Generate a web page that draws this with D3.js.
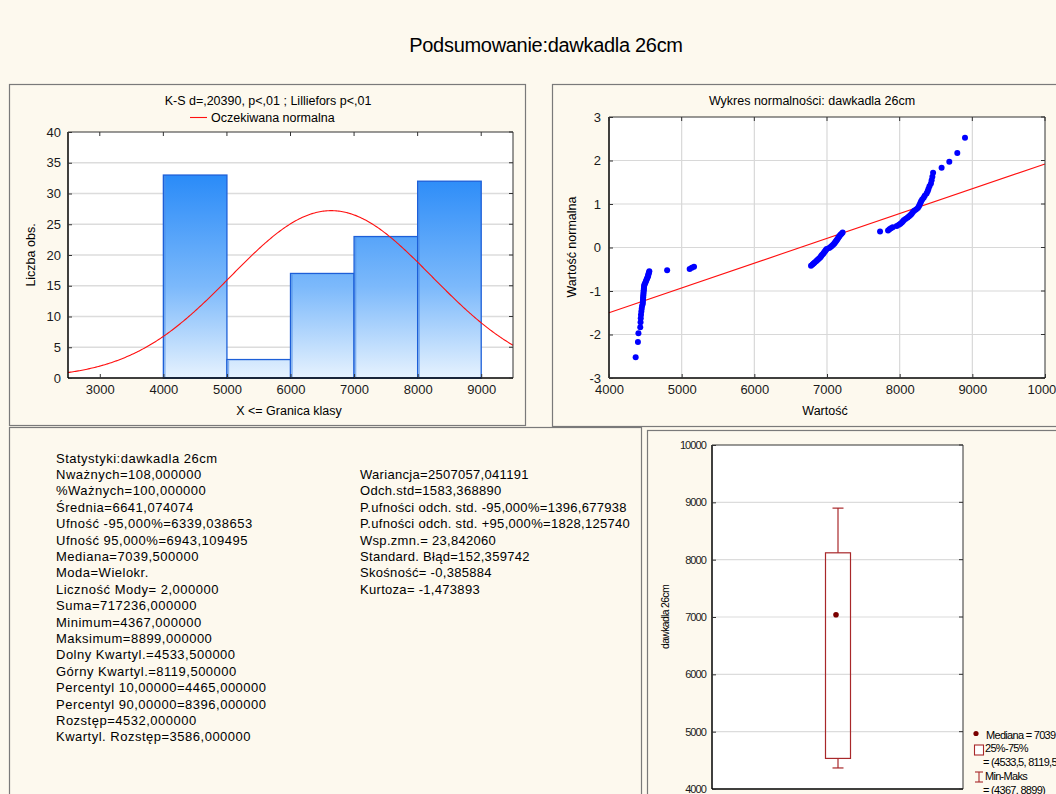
<!DOCTYPE html>
<html>
<head>
<meta charset="utf-8">
<script src="https://cdn.jsdelivr.net/npm/d3@7"></script>
<style>
  body { margin: 0; background: #fdf9ee; overflow: hidden; }
  svg { display: block; font-family: "Liberation Sans", Arial, sans-serif; }
</style>
</head>
<body>
<div id="chart"></div>
<script>
// ---- histogram data ----
const binEdges = [4000, 5000, 6000, 7000, 8000, 9000];
const binCounts = [33, 3, 17, 23, 32];
const histXTicks = [3000, 4000, 5000, 6000, 7000, 8000, 9000];
const histYTicks = [0, 5, 10, 15, 20, 25, 30, 35, 40];
const sampleMean = 6641.074074;
const sampleSd = 1583.368890;
const sampleN = 108;

// ---- normal probability plot data (sorted observations) ----
const sortedValues = [
  4367, 4398, 4405, 4430, 4434, 4437, 4440, 4445, 4450, 4455,
  4465, 4466, 4468, 4470, 4472, 4474, 4476, 4478, 4480, 4482,
  4485, 4490, 4500, 4508, 4515, 4522, 4530, 4537, 4540, 4545,
  4550, 4555, 4800,
  5110, 5140, 5170,
  6780, 6800, 6815, 6830, 6850, 6865, 6880, 6895, 6910, 6920,
  6930, 6945, 6955, 6965, 6975, 6985, 6995,
  7030, 7049, 7065, 7080, 7095, 7105, 7115, 7125, 7135, 7145,
  7155, 7165, 7175, 7185, 7200, 7215, 7730, 7840, 7860, 7880,
  7905, 7960, 7990,
  8010, 8030, 8045, 8060, 8085, 8110, 8130, 8150, 8165, 8180,
  8200, 8225, 8250, 8265, 8275, 8285, 8295, 8310, 8330, 8345,
  8370, 8385, 8396, 8410, 8430, 8440, 8450, 8460, 8577, 8683,
  8793, 8899
];
const probXTicks = [4000, 5000, 6000, 7000, 8000, 9000, 10000];
const probYTicks = [-3, -2, -1, 0, 1, 2, 3];
const refLineX = [4000, 10000];
const refLineY = [-1.5, 1.92];

// ---- box plot data: min, q1, median, q3, max ----
const boxSummary = [4367, 4533.5, 7039.5, 8119.5, 8899];
const boxYTicks = [4000, 5000, 6000, 7000, 8000, 9000, 10000];

// ---- descriptive statistics text ----
const statsLeft = [
  "Statystyki:dawkadla 26cm",
  "Nważnych=108,000000",
  "%Ważnych=100,000000",
  "Średnia=6641,074074",
  "Ufność -95,000%=6339,038653",
  "Ufność 95,000%=6943,109495",
  "Mediana=7039,500000",
  "Moda=Wielokr.",
  "Liczność Mody= 2,000000",
  "Suma=717236,000000",
  "Minimum=4367,000000",
  "Maksimum=8899,000000",
  "Dolny Kwartyl.=4533,500000",
  "Górny Kwartyl.=8119,500000",
  "Percentyl 10,00000=4465,000000",
  "Percentyl 90,00000=8396,000000",
  "Rozstęp=4532,000000",
  "Kwartyl. Rozstęp=3586,000000"
];
const statsRight = [
  "Wariancja=2507057,041191",
  "Odch.std=1583,368890",
  "P.ufności odch. std. -95,000%=1396,677938",
  "P.ufności odch. std. +95,000%=1828,125740",
  "Wsp.zmn.= 23,842060",
  "Standard. Błąd=152,359742",
  "Skośność= -0,385884",
  "Kurtoza= -1,473893"
];
const boxLegend = ["Mediana = 7039,5", "25%-75%", "= (4533,5, 8119,5)", "Min-Maks", "= (4367, 8899)"];

const W = 1056, H = 794;
const bg = "#fdf9ee";

const svg = d3.select("#chart")
  .append("svg")
  .attr("width", W)
  .attr("height", H);

svg.append("rect").attr("width", W).attr("height", H).attr("fill", bg);

svg.append("text")
  .attr("x", 546)
  .attr("y", 52)
  .attr("text-anchor", "middle")
  .style("font-size", "20px")
  .style("letter-spacing", "-0.3px")
  .text("Podsumowanie:dawkadla 26cm");

// panel frames
[[9, 84, 516, 341], [552, 84, 520, 342], [9, 427, 632, 380], [647, 430, 420, 380]].forEach(p => {
  svg.append("rect")
    .attr("x", p[0] + 0.5).attr("y", p[1] + 0.5)
    .attr("width", p[2]).attr("height", p[3])
    .attr("fill", bg)
    .attr("stroke", "#7a7a7a")
    .attr("stroke-width", 1.2);
});

// draws the plot box frame and inward ticks on top/right
function plotFrame(x, y, ticksX, ticksY) {
  const [x0, x1] = x.range(), [y0, y1] = y.range();
  const g = svg.append("g");
  g.append("line").attr("x1", x0).attr("x2", x1).attr("y1", y1).attr("y2", y1).attr("stroke", "#333").attr("stroke-width", 1);
  g.append("line").attr("x1", x1).attr("x2", x1).attr("y1", y1).attr("y2", y0).attr("stroke", "#333").attr("stroke-width", 1);
  g.append("line").attr("x1", x0).attr("x2", x0).attr("y1", y1).attr("y2", y0).attr("stroke", "#000").attr("stroke-width", 1.5);
  g.append("line").attr("x1", x0).attr("x2", x1).attr("y1", y0).attr("y2", y0).attr("stroke", "#000").attr("stroke-width", 1.5);
  (ticksX || []).forEach(t => {
    g.append("line").attr("x1", x(t)).attr("x2", x(t)).attr("y1", y1).attr("y2", y1 + 4).attr("stroke", "#333");
  });
  (ticksY || []).forEach(t => {
    g.append("line").attr("x1", x1).attr("x2", x1 - 4).attr("y1", y(t)).attr("y2", y(t)).attr("stroke", "#333");
  });
}

function styleAxis(g, size, spacing) {
  g.select(".domain").remove();
  g.selectAll(".tick line").attr("stroke", "#333");
  g.selectAll("text")
    .style("font-size", size)
    .style("letter-spacing", spacing || "0px")
    .style("font-family", "'Liberation Sans', Arial, sans-serif")
    .attr("fill", "#1a1a1a");
}

// ================= Histogram =================
const hx = d3.scaleLinear().domain([2500, 9500]).range([68, 513]);
const hy = d3.scaleLinear().domain([0, 40]).range([378, 132]);

svg.append("rect")
  .attr("x", 68).attr("y", 132).attr("width", 445).attr("height", 246)
  .attr("fill", "#fff");

svg.append("g").selectAll("line")
  .data(histYTicks.slice(1, -1))
  .enter().append("line")
  .attr("x1", 68).attr("x2", 513)
  .attr("y1", d => hy(d)).attr("y2", d => hy(d))
  .attr("stroke", "#dcdcdc").attr("stroke-width", 1.3);

const defs = svg.append("defs");
const grad = defs.append("linearGradient")
  .attr("id", "barGrad")
  .attr("gradientUnits", "userSpaceOnUse")
  .attr("x1", 0).attr("x2", 0)
  .attr("y1", hy(33)).attr("y2", hy(0));
grad.append("stop").attr("offset", "0%").attr("stop-color", "#2a8bf8");
grad.append("stop").attr("offset", "55%").attr("stop-color", "#7cb9fb");
grad.append("stop").attr("offset", "100%").attr("stop-color", "#e6f2fe");

const bins = binCounts.map((c, i) => ({ x0: binEdges[i], x1: binEdges[i + 1], count: c }));

svg.append("g").selectAll("rect")
  .data(bins)
  .enter().append("rect")
  .attr("x", d => hx(d.x0))
  .attr("y", d => hy(d.count))
  .attr("width", d => hx(d.x1) - hx(d.x0))
  .attr("height", d => hy(0) - hy(d.count))
  .attr("fill", "url(#barGrad)")
  .attr("stroke", "#1d5fd8")
  .attr("stroke-width", 1.3);

// left edge shading of each bar
svg.append("g").selectAll("line")
  .data(bins)
  .enter().append("line")
  .attr("x1", d => hx(d.x0) + 1.5).attr("x2", d => hx(d.x0) + 1.5)
  .attr("y1", d => hy(d.count) + 1).attr("y2", hy(0))
  .attr("stroke", "#4f8ee6").attr("stroke-width", 1.5).attr("opacity", 0.6);

// expected normal curve from the sample mean / sd
const binWidth = binEdges[1] - binEdges[0];
const normPdf = x => Math.exp(-0.5 * ((x - sampleMean) / sampleSd) ** 2) / (sampleSd * Math.sqrt(2 * Math.PI));
const curve = d3.range(2500, 9501, 20).map(x => [x, sampleN * binWidth * normPdf(x)]);

svg.append("path")
  .datum(curve)
  .attr("fill", "none")
  .attr("stroke", "#ff1010")
  .attr("stroke-width", 1.1)
  .attr("d", d3.line().x(d => hx(d[0])).y(d => hy(d[1])));

plotFrame(hx, hy, histXTicks, histYTicks);

svg.append("g")
  .attr("transform", "translate(0,378)")
  .call(d3.axisBottom(hx).tickValues(histXTicks).tickSizeInner(-4).tickSizeOuter(0).tickPadding(7).tickFormat(d => String(d)))
  .call(g => styleAxis(g, "13px"));

svg.append("g")
  .attr("transform", "translate(68,0)")
  .call(d3.axisLeft(hy).tickValues(histYTicks).tickSizeInner(-4).tickSizeOuter(0).tickPadding(7).tickFormat(d => String(d)))
  .call(g => styleAxis(g, "13px"));

svg.append("text")
  .attr("transform", "rotate(-90)")
  .attr("x", -255).attr("y", 35)
  .attr("text-anchor", "middle")
  .style("font-size", "12.5px")
  .text("Liczba obs.");

svg.append("text")
  .attr("x", 289).attr("y", 415)
  .attr("text-anchor", "middle")
  .style("font-size", "12.5px")
  .text("X <= Granica klasy");

svg.append("text")
  .attr("x", 268).attr("y", 105)
  .attr("text-anchor", "middle")
  .style("font-size", "12.5px")
  .text("K-S d=,20390, p<,01 ; Lilliefors p<,01");

svg.append("line")
  .attr("x1", 190).attr("x2", 207).attr("y1", 117.5).attr("y2", 117.5)
  .attr("stroke", "#ff1010").attr("stroke-width", 1.1);

svg.append("text")
  .attr("x", 211).attr("y", 122)
  .style("font-size", "12.5px")
  .text("Oczekiwana normalna");

// ================= Normal probability plot =================
function normInv(p) {
  const a = [-39.69683028665376, 220.9460984245205, -275.9285104469687, 138.357751867269, -30.66479806614716, 2.506628277459239];
  const b = [-54.47609879822406, 161.5858368580409, -155.6989798598866, 66.80131188771972, -13.28068155288572];
  const c = [-0.007784894002430293, -0.3223964580411365, -2.400758277161838, -2.549732539343734, 4.374664141464968, 2.938163982698783];
  const d = [0.007784695709041462, 0.3224671290700398, 2.445134137142996, 3.754408661907416];
  const tail = q => (((((c[0] * q + c[1]) * q + c[2]) * q + c[3]) * q + c[4]) * q + c[5]) /
                    ((((d[0] * q + d[1]) * q + d[2]) * q + d[3]) * q + 1);
  if (p < 0.02425) return tail(Math.sqrt(-2 * Math.log(p)));
  if (p > 1 - 0.02425) return -tail(Math.sqrt(-2 * Math.log(1 - p)));
  const q = p - 0.5, r = q * q;
  return (((((a[0] * r + a[1]) * r + a[2]) * r + a[3]) * r + a[4]) * r + a[5]) * q /
         (((((b[0] * r + b[1]) * r + b[2]) * r + b[3]) * r + b[4]) * r + 1);
}

const px = d3.scaleLinear().domain([4000, 10000]).range([609, 1045]);
const py = d3.scaleLinear().domain([-3, 3]).range([378, 117]);

svg.append("rect")
  .attr("x", 609).attr("y", 117).attr("width", 436).attr("height", 261)
  .attr("fill", "#fff");

svg.append("g").selectAll("line")
  .data(probXTicks.slice(1, -1))
  .enter().append("line")
  .attr("x1", d => px(d)).attr("x2", d => px(d))
  .attr("y1", 117).attr("y2", 378)
  .attr("stroke", "#d8d8d8").attr("stroke-width", 1.2);

svg.append("g").selectAll("line")
  .data(probYTicks.slice(1, -1))
  .enter().append("line")
  .attr("x1", 609).attr("x2", 1045)
  .attr("y1", d => py(d)).attr("y2", d => py(d))
  .attr("stroke", "#d8d8d8").attr("stroke-width", 1.2);

svg.append("line")
  .attr("x1", px(refLineX[0])).attr("x2", px(refLineX[1]))
  .attr("y1", py(refLineY[0])).attr("y2", py(refLineY[1]))
  .attr("stroke", "#ff1010").attr("stroke-width", 1.1);

const n = sortedValues.length;
svg.append("g").selectAll("circle")
  .data(sortedValues)
  .enter().append("circle")
  .attr("cx", d => px(d))
  .attr("cy", (d, i) => py(normInv((i + 1 - 0.375) / (n + 0.25))))
  .attr("r", 3)
  .attr("fill", "#0000ff");

plotFrame(px, py, probXTicks, probYTicks);

svg.append("g")
  .attr("transform", "translate(0,378)")
  .call(d3.axisBottom(px).tickValues(probXTicks).tickSizeInner(-4).tickSizeOuter(0).tickPadding(7).tickFormat(d => String(d)))
  .call(g => styleAxis(g, "13px"));

svg.append("g")
  .attr("transform", "translate(609,0)")
  .call(d3.axisLeft(py).tickValues(probYTicks).tickSizeInner(-4).tickSizeOuter(0).tickPadding(8).tickFormat(d => String(d)))
  .call(g => styleAxis(g, "13px"));

svg.append("text")
  .attr("x", 812).attr("y", 105)
  .attr("text-anchor", "middle")
  .style("font-size", "12.5px")
  .text("Wykres normalności: dawkadla 26cm");

svg.append("text")
  .attr("transform", "rotate(-90)")
  .attr("x", -247).attr("y", 576)
  .attr("text-anchor", "middle")
  .style("font-size", "12.5px")
  .text("Wartość normalna");

svg.append("text")
  .attr("x", 825).attr("y", 415)
  .attr("text-anchor", "middle")
  .style("font-size", "12.5px")
  .text("Wartość");

// ================= Statistics text =================
const lineH = 16.4;
svg.append("g").selectAll("text")
  .data(statsLeft)
  .enter().append("text")
  .attr("x", 56)
  .attr("y", (d, i) => 462.5 + i * lineH)
  .style("font-size", "13px")
  .style("letter-spacing", "0.5px")
  .text(d => d);

svg.append("g").selectAll("text")
  .data(statsRight)
  .enter().append("text")
  .attr("x", 360)
  .attr("y", (d, i) => 462.5 + (i + 1) * lineH)
  .style("font-size", "13px")
  .style("letter-spacing", "0.3px")
  .text(d => d);

// ================= Box plot =================
const boxColor = "#a8282a";
const by = d3.scaleLinear().domain([4000, 10000]).range([789, 445]);
const bx0 = 712, bx1 = 963, bcx = 838;

svg.append("rect")
  .attr("x", bx0).attr("y", 445).attr("width", bx1 - bx0).attr("height", 344)
  .attr("fill", "#fff");

svg.append("g").selectAll("line")
  .data(boxYTicks.slice(1, -1))
  .enter().append("line")
  .attr("x1", bx0).attr("x2", bx1)
  .attr("y1", d => by(d)).attr("y2", d => by(d))
  .attr("stroke", "#dcdcdc").attr("stroke-width", 1.2);

const [bMin, bQ1, bMed, bQ3, bMax] = boxSummary;

svg.append("line")
  .attr("x1", bcx).attr("x2", bcx).attr("y1", by(bMax)).attr("y2", by(bQ3))
  .attr("stroke", boxColor).attr("stroke-width", 1.2);
svg.append("line")
  .attr("x1", bcx).attr("x2", bcx).attr("y1", by(bQ1)).attr("y2", by(bMin))
  .attr("stroke", boxColor).attr("stroke-width", 1.2);
[bMin, bMax].forEach(v => {
  svg.append("line")
    .attr("x1", bcx - 5.5).attr("x2", bcx + 5.5).attr("y1", by(v)).attr("y2", by(v))
    .attr("stroke", boxColor).attr("stroke-width", 1.2);
});
svg.append("rect")
  .attr("x", bcx - 12.5).attr("y", by(bQ3))
  .attr("width", 25).attr("height", by(bQ1) - by(bQ3))
  .attr("fill", "none")
  .attr("stroke", boxColor).attr("stroke-width", 1.2);
svg.append("circle")
  .attr("cx", bcx - 2).attr("cy", by(bMed))
  .attr("r", 2.8)
  .attr("fill", "#7a0000");

const boxFrameX = d3.scaleLinear().domain([0, 1]).range([bx0, bx1]);
plotFrame(boxFrameX, by, [], boxYTicks);

svg.append("g")
  .attr("transform", `translate(${bx0},0)`)
  .call(d3.axisLeft(by).tickValues(boxYTicks).tickSizeInner(-4).tickSizeOuter(0).tickPadding(6).tickFormat(d => String(d)))
  .call(g => styleAxis(g, "11px", "-0.9px"));

svg.append("text")
  .attr("transform", "rotate(-90)")
  .attr("x", -617).attr("y", 669)
  .attr("text-anchor", "middle")
  .style("font-size", "10.5px")
  .style("letter-spacing", "-0.7px")
  .text("dawkadla 26cm");

// legend
svg.append("circle").attr("cx", 976).attr("cy", 733.5).attr("r", 2.6).attr("fill", "#7a0000");
svg.append("rect").attr("x", 974.5).attr("y", 745).attr("width", 9).attr("height", 10)
  .attr("fill", "#fff").attr("stroke", boxColor).attr("stroke-width", 1.1);
svg.append("line").attr("x1", 979).attr("x2", 979).attr("y1", 772).attr("y2", 782).attr("stroke", boxColor).attr("stroke-width", 1.1);
svg.append("line").attr("x1", 975).attr("x2", 983).attr("y1", 772).attr("y2", 772).attr("stroke", boxColor).attr("stroke-width", 1.1);
svg.append("line").attr("x1", 975).attr("x2", 983).attr("y1", 782).attr("y2", 782).attr("stroke", boxColor).attr("stroke-width", 1.1);

const legendPos = [[986, 739], [985, 752], [983, 766], [985, 780], [983, 793.5]];
svg.append("g").selectAll("text")
  .data(boxLegend)
  .enter().append("text")
  .attr("x", (d, i) => legendPos[i][0])
  .attr("y", (d, i) => legendPos[i][1])
  .style("font-size", "11px")
  .style("letter-spacing", "-0.7px")
  .text(d => d);
</script>
</body>
</html>
